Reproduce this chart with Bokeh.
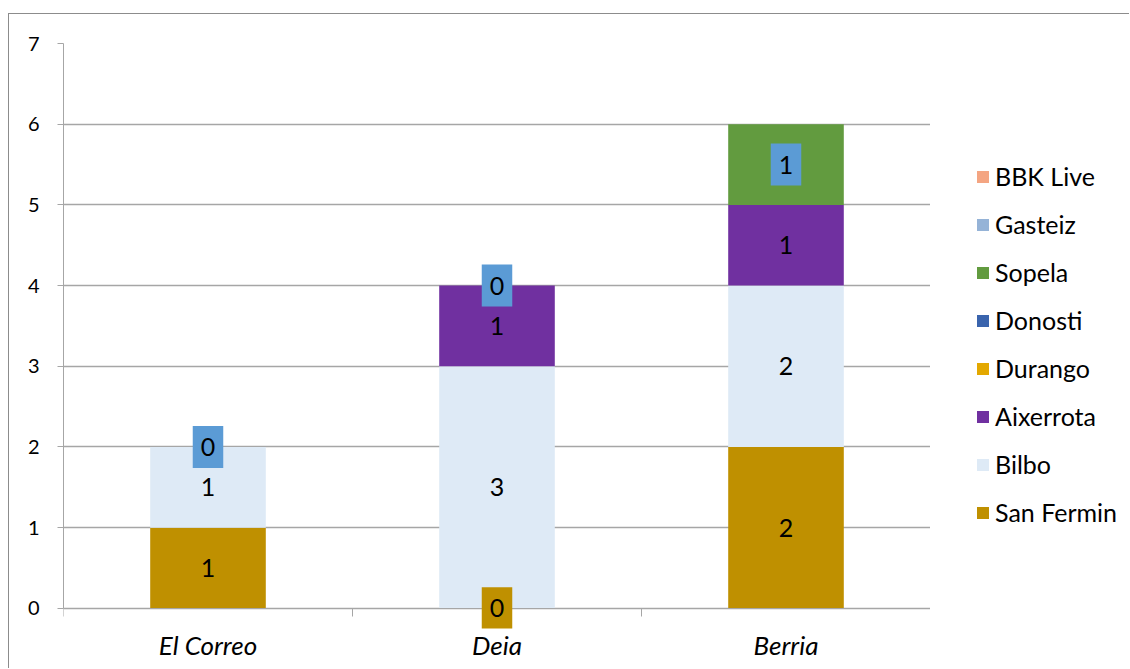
from bokeh.plotting import figure
from bokeh.models import (Range1d, FixedTicker, Legend, LegendItem, Label,
                          ColumnDataSource, LinearAxis)
from bokeh.layouts import row
from bokeh.core.properties import value
from bokeh.embed import file_html
from bokeh.resources import INLINE

categories = ["El Correo", "Deia", "Berria"]
series = ["San Fermin", "Bilbo", "Aixerrota", "Durango", "Donosti",
          "Sopela", "Gasteiz", "BBK Live"]
san_fermin = [1, 0, 2]
bilbo = [1, 3, 2]
aixerrota = [0, 1, 1]
durango = [0, 0, 0]
donosti = [0, 0, 0]
sopela = [0, 0, 1]
gasteiz = [0, 0, 0]
bbk_live = [0, 0, 0]
colors = ["#BF9000", "#DEEAF6", "#7030A0", "#E3A800", "#3A64AD",
          "#629B3F", "#95B3D7", "#F4A582"]
# data labels drawn with a filled box: (series, category, box colour)
boxed = [("San Fermin", "Deia", "#BF9000"),
         ("Gasteiz", "El Correo", "#5B9BD5"),
         ("Gasteiz", "Deia", "#5B9BD5"),
         ("Sopela", "Berria", "#5B9BD5")]
y_ticks = [0, 1, 2, 3, 4, 5, 6, 7]

values = [san_fermin, bilbo, aixerrota, durango, donosti, sopela, gasteiz, bbk_live]
xpos = [i + 0.5 for i in range(len(categories))]
bounds_x = [float(i) for i in range(len(categories) + 1)]
data = {"x": xpos}
for name, vals in zip(series, values):
    data[name] = vals
source = ColumnDataSource(data)

FONT = "Lato"
GRID = "#A6A6A6"
H = 654

p = figure(width=921, height=H, x_range=Range1d(0, 3), y_range=Range1d(-0.25, 7),
           output_backend="svg", toolbar_location=None,
           min_border_left=54, min_border_right=0, min_border_top=29,
           min_border_bottom=40)
p.outline_line_color = None

renderers = p.vbar_stack(series, x="x", width=0.4, fill_color=colors,
                         line_color=None, source=source)

# plain labels
lx, ly, lt = [], [], []
boxed_keys = {(s, c) for s, c, _ in boxed}
for ci, cat in enumerate(categories):
    cum = 0
    for si, name in enumerate(series):
        v = values[si][ci]
        mid = cum + v / 2
        if v > 0 and (name, cat) not in boxed_keys:
            lx.append(xpos[ci]); ly.append(mid); lt.append(str(v))
        cum += v
p.text(x=lx, y=ly, text=lt, text_align="center", text_baseline="middle",
       text_font=value(FONT), text_font_size="25px", text_color="#000000")

# boxed labels
for name, cat, col in boxed:
    si = series.index(name); ci = categories.index(cat)
    below = sum(values[k][ci] for k in range(si))
    v = values[si][ci]
    lab = Label(x=xpos[ci], y=below + v / 2, text=str(v), text_align="center",
                text_baseline="middle", text_font=FONT, text_font_size="25px",
                text_color="#000000", background_fill_color=col)
    try:
        lab.padding = dict(x=8, y=12)
    except Exception:
        try:
            lab.padding = 10
        except Exception:
            pass
    p.add_layout(lab)

# y axis
yax = p.yaxis[0]
yax.ticker = FixedTicker(ticks=y_ticks)
yax.bounds = (0, 7)
yax.axis_line_color = GRID
yax.major_tick_line_color = GRID
yax.major_tick_out = 6
yax.major_tick_in = 0
yax.minor_tick_line_color = None
yax.major_label_standoff = 18
yax.major_label_text_font = FONT
yax.major_label_text_font_size = "20px"
yax.major_label_text_color = "#000000"

# x axis line with category boundary ticks, fixed at y = 0
xax = p.xaxis[0]
xax.fixed_location = 0
xax.ticker = FixedTicker(ticks=[], minor_ticks=bounds_x)
xax.axis_line_color = GRID
xax.major_tick_line_color = None
xax.major_tick_out = 0
xax.major_tick_in = 0
xax.minor_tick_line_color = GRID
xax.minor_tick_out = 8
xax.minor_tick_in = 0
xax.major_label_standoff = 0
xax.major_label_text_font_size = "1px"

# category labels axis
cax = LinearAxis(ticker=FixedTicker(ticks=xpos),
                 major_label_overrides={x: c for x, c in zip(xpos, categories)})
cax.axis_line_color = None
cax.major_tick_line_color = None
cax.minor_tick_line_color = None
cax.major_tick_out = 0
cax.major_tick_in = 0
cax.minor_tick_out = 0
cax.major_label_standoff = 0
cax.major_label_text_font = FONT
cax.major_label_text_font_style = "italic"
cax.major_label_text_font_size = "26px"
cax.major_label_text_color = "#000000"
p.add_layout(cax, "below")

p.xgrid.visible = False
p.ygrid.ticker = FixedTicker(ticks=y_ticks)
p.ygrid.grid_line_color = GRID
p.ygrid.grid_line_width = 1.5

# legend panel (swatches use one zero-height bar so the legend can draw them)
lf = figure(width=199, height=H, x_range=Range1d(0, 1), y_range=Range1d(0, 1),
            output_backend="svg", toolbar_location=None,
            x_axis_type=None, y_axis_type=None,
            min_border_left=0, min_border_right=0, min_border_top=0,
            min_border_bottom=0)
lf.outline_line_color = None
swatches = [lf.vbar(x=[0.5], top=[0], bottom=[0], width=0.1, fill_color=c,
                    line_color=None) for c in colors]
items = [LegendItem(label=name, renderers=[r]) for name, r in zip(series, swatches)][::-1]
legend = Legend(items=items, location=(45, 101), padding=0, margin=0,
                glyph_width=15, glyph_height=15, label_height=30, spacing=18,
                label_standoff=5, label_text_font=FONT, label_text_font_size="25px",
                label_text_color="#000000", border_line_color=None,
                background_fill_alpha=0)
lf.add_layout(legend, "center")

layout = row(p, lf)
layout.styles = {"border-top": "1px solid #8C8C8C", "border-left": "1px solid #8C8C8C",
                 "margin-top": "13px", "margin-left": "8px"}

open("out.html", "w").write(file_html(layout, INLINE))
